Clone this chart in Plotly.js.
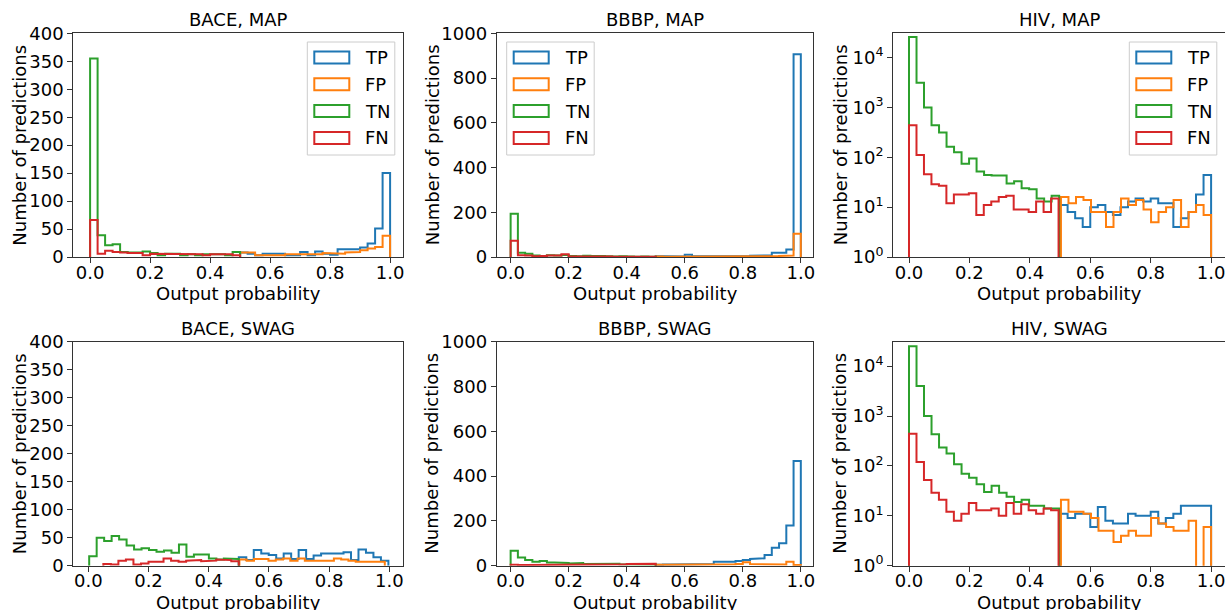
<!DOCTYPE html>
<html>
<head>
<meta charset="utf-8">
<script src="https://cdn.plot.ly/plotly-3.0.1.min.js"></script>
<style>html,body{margin:0;padding:0;background:#fff;}#chart{width:1225px;height:610px;}</style>
</head>
<body>
<div id="chart"></div>
<script>
// ---------- DATA ----------
const categories = ["TP", "FP", "TN", "FN"];
const panelTitles = ["BACE, MAP", "BBBP, MAP", "HIV, MAP", "BACE, SWAG", "BBBP, SWAG", "HIV, SWAG"];
const xTickVals = [0, 0.2, 0.4, 0.6, 0.8, 1.0];
const xTickLabels = ["0.0", "0.2", "0.4", "0.6", "0.8", "1.0"];
const logTickVals = [1, 10, 100, 1000, 10000];
const logTickLabels = ["10<sup>0</sup>", "10<sup>1</sup>", "10<sup>2</sup>", "10<sup>3</sup>", "10<sup>4</sup>"];

// bin counts (per series)
const baceMapTP = [8, 6, 3, 6, 6, 6, 3, 3, 9, 3, 10, 6, 4, 14, 14, 14, 17, 24, 51, 150];
const baceMapFP = [8, 8, 3, 3, 3, 3, 5, 6, 5, 6, 5, 7, 7, 6, 8, 9, 12, 15, 18, 38];
const baceMapTN = [355, 39, 21, 23, 9, 8, 8, 10, 7, 3, 6, 6, 3, 5, 3, 5, 6, 5, 3, 9];
const baceMapFN = [66, 6, 11, 9, 8, 7, 7, 3, 6, 5, 6, 5, 5, 6, 5, 3, 5, 6, 5, 3];

const bbbpMapTP = [3, 3, 3, 2, 10, 3, 2, 1, 2, 4, 3, 3, 4, 6, 7, 7, 19, 19, 33, 906];
const bbbpMapFP = [2, 1, 1, 1, 1, 1, 1, 1, 2, 1, 2, 2, 2, 3, 3, 3, 4, 5, 7, 104];
const bbbpMapTN = [193, 19, 15, 7, 5, 8, 7, 9, 4, 3, 6, 4, 5, 3, 2, 3, 2, 1, 2, 1];
const bbbpMapFN = [73, 8, 7, 3, 5, 7, 7, 12, 3, 2, 4, 5, 2, 2, 1, 1, 1, 1, 2, 1];

const hivMapTP = [11, 8, 6, 4, 10, 11, 8, 7, 10, 13, 15, 13, 15, 12, 12, 4, 6, 8, 18, 44];
const hivMapFP = [16, 12, 16, 14, 8, 8, 4, 8, 15, 11, 14, 9, 5, 8, 10, 14, 4, 8, 11, 7];
const hivMapTN = [25900, 3160, 1000, 443, 316, 163, 126, 74, 95, 52, 44, 43, 43, 30, 33, 24, 23, 15, 13, 17];
const hivMapFN = [443, 111, 46, 29, 27, 12, 18, 18, 19, 7, 11, 13, 16, 17, 9, 9, 8, 13, 8, 15];

const baceSwagTP = [15, 10, 28, 22, 19, 13, 22, 12, 28, 12, 18, 22, 22, 22, 24, 10, 29, 23, 15, 9];
const baceSwagFP = [11, 9, 12, 12, 9, 11, 13, 9, 13, 9, 10, 9, 9, 13, 11, 9, 7, 6, 7, 7];
const baceSwagTN = [17, 50, 44, 53, 47, 36, 29, 31, 28, 25, 27, 23, 38, 16, 20, 20, 13, 11, 13, 12];
const baceSwagFN = [3, 2, 9, 11, 2, 4, 7, 7, 13, 9, 7, 9, 10, 8, 9, 11, 10, 8];

const bbbpSwagTP = [4, 5, 5, 6, 8, 8, 6, 8, 18, 15, 18, 21, 25, 30, 33, 48, 80, 100, 179, 467];
const bbbpSwagFP = [4, 4, 4, 4, 5, 5, 5, 5, 5, 6, 6, 8, 15, 8, 6, 6, 5, 5, 18, 3];
const bbbpSwagTN = [67, 37, 25, 18, 21, 14, 14, 12, 10, 12, 8, 10, 10, 7, 9, 6, 7, 7, 6, 5];
const bbbpSwagFN = [4, 3, 3, 3, 3, 3, 3, 5, 4, 3, 5, 5, 5, 5, 5, 6, 8, 9, 9, 9];

const hivSwagTP = [11, 9, 11, 11, 6, 15, 8, 7, 7, 11, 10, 10, 12, 7, 9, 11, 16, 16, 16, 16];
const hivSwagFP = [21, 12, 12, 11, 9, 5, 5, 3, 4, 5, 4, 4, 9, 7, 6, 5, 5, 8, 0, 6];
const hivSwagTN = [25100, 3980, 1000, 430, 233, 177, 108, 70, 58, 43, 30, 40, 29, 24, 19, 21, 16, 16, 14, 14];
const hivSwagFN = [443, 120, 52, 29, 21, 12, 8, 11, 18, 13, 13, 14, 10, 18, 11, 17, 13, 11, 14, 13];

// histogram bin extents [first edge, last edge] per series (TP, FP, TN, FN)
const baceMapEdges  = [[0.5, 1.0], [0.5, 1.0], [0.0, 0.5], [0.0, 0.5]];
const bbbpMapEdges  = [[0.5, 1.0], [0.5, 1.0], [0.0, 0.5], [0.0, 0.5]];
const hivMapEdges   = [[0.5, 1.0], [0.503, 1.0], [0.0, 0.497], [0.0, 0.495]];
const baceSwagEdges = [[0.5, 0.997], [0.502, 0.985], [0.003, 0.5], [0.05, 0.5]];
const bbbpSwagEdges = [[0.5, 1.0], [0.5, 1.0], [0.0, 0.5], [0.0, 0.5]];
const hivSwagEdges  = [[0.5, 1.0], [0.503, 1.0], [0.0, 0.497], [0.0, 0.495]];

// ---------- STYLE / LAYOUT ----------
const colors = ["#1f77b4", "#ff7f0e", "#2ca02c", "#d62728"];
const FONT = "DejaVu Sans, Liberation Sans, sans-serif";
const FS = 18;
const W = 1225, H = 610;
const fx = p => p / W;
const fy = p => 1 - p / H;

const colPx = [[73.3, 403.3], [496.7, 813.3], [893, 1225]];
const rowPx = [[33.3, 257], [341.7, 565.7]];
const xRanges = [[-0.056, 1.044], [-0.048, 1.043], [-0.053, 1.046], [-0.0498, 1.0465], [-0.048, 1.043], [-0.053, 1.046]];
const yLabelX = [19.5, 432, 840];

const panels = [
  {series: [baceMapTP, baceMapFP, baceMapTN, baceMapFN], edges: baceMapEdges, kind: "bace", legend: [307.3, 42]},
  {series: [bbbpMapTP, bbbpMapFP, bbbpMapTN, bbbpMapFN], edges: bbbpMapEdges, kind: "bbbp", legend: [506.7, 42]},
  {series: [hivMapTP, hivMapFP, hivMapTN, hivMapFN], edges: hivMapEdges, kind: "hiv", legend: [1129.3, 42]},
  {series: [baceSwagTP, baceSwagFP, baceSwagTN, baceSwagFN], edges: baceSwagEdges, kind: "bace", legend: null},
  {series: [bbbpSwagTP, bbbpSwagFP, bbbpSwagTN, bbbpSwagFN], edges: bbbpSwagEdges, kind: "bbbp", legend: null},
  {series: [hivSwagTP, hivSwagFP, hivSwagTN, hivSwagFN], edges: hivSwagEdges, kind: "hiv", legend: null}
];

function stepXY(counts, start, end, floor) {
  const n = counts.length, w = (end - start) / n;
  const xs = [start], ys = [floor];
  for (let i = 0; i < n; i++) {
    const v = counts[i] > 0 ? counts[i] : floor;
    xs.push(start + i * w, start + (i + 1) * w);
    ys.push(v, v);
  }
  xs.push(end); ys.push(floor);
  return {xs, ys};
}

const traces = [];
const layout = {
  width: W, height: H,
  margin: {l: 0, r: 0, t: 0, b: 0},
  paper_bgcolor: "#fff", plot_bgcolor: "#fff",
  font: {family: FONT, size: FS, color: "#000"},
  showlegend: false,
  shapes: [], annotations: []
};

const axisCommon = {
  showline: true, mirror: true, linecolor: "#333", linewidth: 1,
  ticks: "outside", ticklen: 5, tickwidth: 1, tickcolor: "#333",
  showgrid: false, zeroline: false, ticklabeloverflow: "allow",
  tickfont: {family: FONT, size: FS, color: "#000"}
};

panels.forEach((p, k) => {
  const idx = k + 1;
  const col = k % 3, row = Math.floor(k / 3);
  const xName = idx === 1 ? "xaxis" : "xaxis" + idx;
  const yName = idx === 1 ? "yaxis" : "yaxis" + idx;
  const xRef = idx === 1 ? "x" : "x" + idx;
  const yRef = idx === 1 ? "y" : "y" + idx;
  const isLog = p.kind === "hiv";
  const floor = isLog ? 0.3 : 0;

  layout[xName] = Object.assign({}, axisCommon, {
    domain: [fx(colPx[col][0]), fx(colPx[col][1])],
    range: xRanges[k], anchor: yRef, ticklabelstandoff: -6,
    tickmode: "array", tickvals: xTickVals, ticktext: xTickLabels
  });
  const y = Object.assign({}, axisCommon, {
    domain: [fy(rowPx[row][1]), fy(rowPx[row][0])], anchor: xRef
  });
  if (p.kind === "bace") { y.range = [0, 400]; y.tickmode = "linear"; y.tick0 = 0; y.dtick = 50; }
  else if (p.kind === "bbbp") { y.range = [0, 1000]; y.tickmode = "linear"; y.tick0 = 0; y.dtick = 200; }
  else { y.type = "log"; y.range = [0, 4.49]; y.tickmode = "array"; y.tickvals = logTickVals; y.ticktext = logTickLabels; }
  layout[yName] = y;

  p.series.forEach((counts, s) => {
    const st = stepXY(counts, p.edges[s][0], p.edges[s][1], floor);
    traces.push({
      type: "scatter", mode: "lines", x: st.xs, y: st.ys,
      name: categories[s], xaxis: xRef, yaxis: yRef,
      line: {color: colors[s], width: 2}, hoverinfo: "skip", showlegend: false
    });
  });

  const titleRight = col === 2 ? 1225 : colPx[col][1];
  // subplot title
  layout.annotations.push({
    xref: "paper", yref: "paper", x: fx((colPx[col][0] + titleRight) / 2),
    y: fy(rowPx[row][0]), yanchor: "bottom", xanchor: "center", yshift: 1,
    text: panelTitles[k], showarrow: false, font: {family: FONT, size: FS, color: "#000"}
  });
  // x axis title
  layout.annotations.push({
    xref: "paper", yref: "paper", x: fx((colPx[col][0] + colPx[col][1]) / 2),
    y: fy(rowPx[row][1] + 36.5), yanchor: "middle", xanchor: "center",
    text: "Output probability", showarrow: false, font: {family: FONT, size: FS, color: "#000"}
  });
  // y axis title
  layout.annotations.push({
    xref: "paper", yref: "paper", x: fx(yLabelX[col]),
    y: fy((rowPx[row][0] + rowPx[row][1]) / 2), yanchor: "middle", xanchor: "center", textangle: -90,
    text: "Number of predictions", showarrow: false, font: {family: FONT, size: FS, color: "#000"}
  });

  // legend drawn like matplotlib (outlined patches)
  if (p.legend) {
    const [lx, ly] = p.legend;
    layout.shapes.push({type: "rect", xref: "paper", yref: "paper",
      x0: fx(lx), x1: fx(lx + 87.5), y0: fy(ly), y1: fy(ly + 113),
      line: {color: "#cccccc", width: 1}, fillcolor: "rgba(255,255,255,0.8)", layer: "above"});
    categories.forEach((c, i) => {
      const cy = ly + 15.5 + i * 26.8;
      layout.shapes.push({type: "rect", xref: "paper", yref: "paper",
        x0: fx(lx + 7), x1: fx(lx + 42), y0: fy(cy - 6), y1: fy(cy + 6),
        line: {color: colors[i], width: 2}, fillcolor: "rgba(0,0,0,0)", layer: "above"});
      layout.annotations.push({xref: "paper", yref: "paper", x: fx(lx + 56), y: fy(cy),
        xanchor: "left", yanchor: "middle", text: c, showarrow: false,
        font: {family: FONT, size: FS, color: "#000"}});
    });
  }
});

Plotly.newPlot("chart", traces, layout, {displayModeBar: false, staticPlot: true});
</script>
</body>
</html>
